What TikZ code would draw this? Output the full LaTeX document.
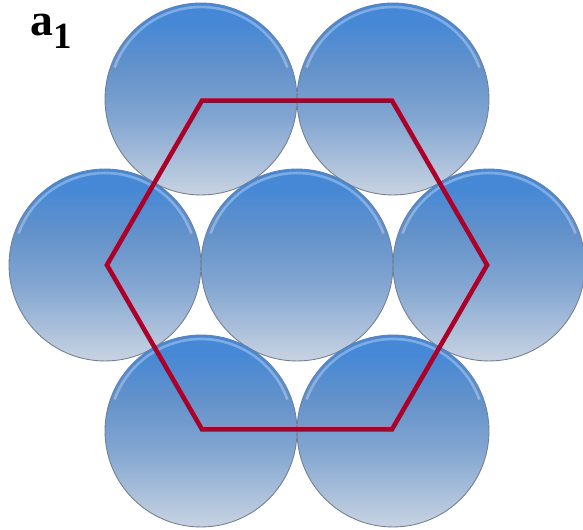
\documentclass[tikz,border=0pt]{standalone}
\usepackage{fontspec}
\setmainfont{Liberation Serif}
\usepackage{xcolor}
\definecolor{balltop}{RGB}{70,136,214}
\definecolor{ballmid}{RGB}{100,146,202}
\definecolor{ballbot}{RGB}{200,211,226}
\definecolor{ballrim}{RGB}{112,128,150}
\definecolor{hexred}{RGB}{172,0,40}
\usetikzlibrary{calc}

\pgfdeclareverticalshading{ballshade}{100bp}{
  color(0bp)=(ballbot); color(25bp)=(ballbot); color(45bp)=(ballmid!70!ballbot);
  color(58bp)=(ballmid); color(70bp)=(balltop); color(100bp)=(balltop)}

\tikzset{
  ball/.style={circle, minimum size=3.84cm, inner sep=0pt, draw=ballrim, line width=0.5pt,
    shading=ballshade},
  hexline/.style={draw=hexred, line width=2.6pt, line join=miter},
}

\begin{document}
\begin{tikzpicture}[x=0.02cm, y=-0.02cm]
  % Frame
  \useasboundingbox (0,0) rectangle (583,530);

  % Label
  \node[font=\fontsize{26}{28}\selectfont\bfseries, anchor=base west, inner sep=0pt] (lab) at (30,36)
       {a\raisebox{-7pt}{\fontsize{21}{23}\selectfont 1}};

  % --- Balls: top row ---
  \node[ball] (tl) at (201,99) {};
  \node[ball] (tr) at (393,99) {};
  % --- Balls: middle row ---
  \node[ball] (ml) at (105,265) {};
  \node[ball] (mc) at (297,265) {};
  \node[ball] (mr) at (489,265) {};
  % --- Balls: bottom row ---
  \node[ball] (bl) at (201,431) {};
  \node[ball] (br) at (393,431) {};

  % Rim highlights on top
  \foreach \b in {tl,tr,ml,mc,mr,bl,br}
    \draw[white, opacity=0.3, line width=1.5pt]
      ($(\b.center)+(200:92)$) arc (200:340:92);

  % Hexagon through the outer centres
  \draw[hexline] ($(mc)!0.99!(ml)$) -- ($(mc)!0.99!(tl)$) -- ($(mc)!0.99!(tr)$)
    -- ($(mc)!0.99!(mr)$) -- ($(mc)!0.99!(br)$) -- ($(mc)!0.99!(bl)$) -- cycle;
\end{tikzpicture}
\end{document}
